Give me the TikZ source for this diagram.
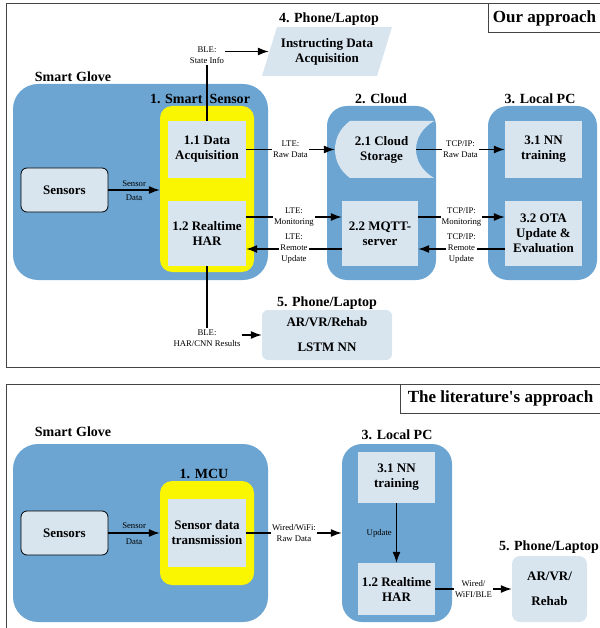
\documentclass[tikz,border=0pt]{standalone}
\usepackage{fontspec}
\setmainfont{Liberation Serif}
\usepackage{tikz}
\usetikzlibrary{positioning, arrows.meta}
\definecolor{gBlue}{HTML}{6CA5D2}
\definecolor{gLight}{HTML}{D8E5EF}
\definecolor{gYellow}{HTML}{FAF500}
\definecolor{gFrame}{HTML}{444444}

\tikzset{
  outerbox/.style={fill=gBlue, rounded corners=20pt},
  chipbox/.style={fill=gYellow, rounded corners=12pt},
  unitbox/.style={fill=gLight, font=\fontsize{13}{15}\selectfont\bfseries, align=center, inner sep=2pt},
  sensorbox/.style={unitbox, draw=black, line width=0.8pt, rounded corners=6pt},
  title/.style={font=\fontsize{14}{16}\selectfont\bfseries},
  heading/.style={draw=gFrame, line width=1pt, fill=white, font=\fontsize{17}{19}\selectfont\bfseries},
  note/.style={font=\fontsize{8.7}{11}\selectfont, align=center, inner sep=1pt},
  lbl/.style={note, fill=white},
  link/.style={line width=1.3pt},
  arr/.style={link, -{Latex[length=11pt, width=8pt]}}
}

\begin{document}
\begin{tikzpicture}[x=1pt, y=-1pt]
  \useasboundingbox (0,0) rectangle (599,628);

  % our approach
  \draw[gFrame, line width=1pt] (6,4) rectangle (601,367);
  \node[heading, minimum width=113pt, minimum height=29pt] (ours) at (544.5,18.5) {Our approach};

  \node[outerbox, rounded corners=25pt, minimum width=255pt, minimum height=196pt] (glove) at (140.5,182) {};
  \node[title] (glovettl) at (73,77) {Smart\hspace{4pt}Glove};
  \node[chipbox, minimum width=94pt, minimum height=166pt] (smart) at (207,189) {};
  \node[title] (smartttl) at (200,99) {1. Smart\hspace{7pt}Sensor};
  \node[unitbox, minimum width=78pt, minimum height=57pt] (acq) at (207,149.5) {1.1 Data\\Acquisition};
  \node[unitbox, minimum width=78pt, minimum height=65pt] (har) at (207,233.5) {1.2 Realtime\\HAR};
  \node[sensorbox, minimum width=87pt, minimum height=44pt] (sensors) at (64.5,190) {Sensors};

  \node[outerbox, minimum width=109pt, minimum height=174pt] (cloud) at (381.5,193) {};
  \node[title] (cloudttl) at (381,99) {2. Cloud};
  \fill[gLight] (434,121) .. controls (410,135) and (410,164) .. (434,178) -- (350,178)
    .. controls (330,164) and (330,135) .. (350,121) -- cycle;
  \node[unitbox, fill=none, minimum width=93pt, minimum height=57pt] (storage) at (381.5,149.5) {2.1 Cloud\\Storage};
  \node[unitbox, minimum width=76pt, minimum height=65pt] (mqtt) at (380,233.5) {2.2 MQTT-\\server};

  \node[outerbox, minimum width=109pt, minimum height=174pt] (pc) at (542.5,193) {};
  \node[title] (pcttl) at (540,99) {3. Local PC};
  \node[unitbox, minimum width=77pt, minimum height=57pt] (nn) at (543.5,149.5) {3.1 NN\\training};
  \node[unitbox, minimum width=77pt, minimum height=65pt] (ota) at (543.5,233.5) {3.2 OTA\\Update \&\\Evaluation};

  \fill[gLight] (277,27) -- (392,27) -- (377,76) -- (262,76) -- cycle;
  \node[unitbox, fill=none, minimum width=130pt, minimum height=49pt] (instr) at (327,51.5) {Instructing Data\\Acquisition};
  \node[title] (instrttl) at (329,19) {4. Phone/Laptop};
  \node[unitbox, rounded corners=6pt, minimum width=130pt, minimum height=50pt] (phone) at (327,335) {AR/VR/Rehab\\[10pt]LSTM NN};
  \node[title] (phonettl) at (327,303) {5. Phone/Laptop};

  \draw[arr] (sensors.east) -- node[note, above=2pt]{Sensor} node[note, below=3pt]{Data} (sensors.east -| smart.west);
  \draw[arr] (acq.east) -- node[lbl]{LTE:\\Raw Data} (storage.west);
  \draw[arr] ([yshift=16.5pt]har.east) -- node[lbl]{LTE:\\Monitoring} ([yshift=16.5pt]mqtt.west);
  \draw[arr] ([yshift=-15.5pt]mqtt.west) -- node[lbl]{LTE:\\Remote\\Update} ([yshift=-15.5pt]har.east);
  \draw[arr] ([xshift=-12pt]storage.east) -- node[lbl]{TCP/IP:\\Raw Data} (nn.west);
  \draw[arr] ([yshift=16.5pt]mqtt.east) -- node[lbl]{TCP/IP:\\Monitoring} ([yshift=16.5pt]ota.west);
  \draw[arr] ([yshift=-15.5pt]ota.west) -- node[lbl]{TCP/IP:\\Remote\\Update} ([yshift=-15.5pt]mqtt.east);

  \node[lbl] (blestate) at (207,55.5) {BLE:\\State Info};
  \draw[link] (acq.north) -- (blestate.south);
  \draw[arr] ([yshift=4pt]blestate.east) -- ([xshift=7pt]instr.west);
  \node[lbl] (bleres) at (207,338) {BLE:\\HAR/CNN Results};
  \draw[link] (har.south) -- (bleres.north);
  \draw[arr] ([yshift=3pt]bleres.east) -- ([yshift=3pt]bleres.east -| phone.west);

  % literature approach
  \draw[gFrame, line width=1pt] (6,631) -- (6,384) -- (601,384);
  \node[heading, minimum width=201pt, minimum height=29pt] (lit) at (500.5,398.5) {The literature\textquotesingle s approach};

  \node[outerbox, rounded corners=25pt, minimum width=255pt, minimum height=178pt] (glove2) at (140.5,533) {};
  \node[title] (glove2ttl) at (73,432) {Smart\hspace{4pt}Glove};
  \node[chipbox, minimum width=94pt, minimum height=104pt] (mcu) at (207,533) {};
  \node[title] (mcuttl) at (204,474) {1. MCU};
  \node[unitbox, minimum width=78pt, minimum height=68pt] (trans) at (207,533) {Sensor data\\transmission};
  \node[sensorbox, minimum width=87pt, minimum height=44pt] (sensors2) at (64.5,533) {Sensors};

  \node[outerbox, minimum width=110pt, minimum height=178pt] (pc2) at (397,533) {};
  \node[title] (pc2ttl) at (397,435) {3. Local PC};
  \node[unitbox, minimum width=77pt, minimum height=51pt] (nn2) at (396.5,477.5) {3.1 NN\\training};
  \node[unitbox, minimum width=77pt, minimum height=52pt] (har2) at (396.5,589) {1.2 Realtime\\HAR};

  \node[unitbox, rounded corners=8pt, minimum width=75pt, minimum height=66pt] (phone2) at (549.5,589) {AR/VR/\\[10pt]Rehab};
  \node[title] (phone2ttl) at (549,547) {5. Phone/Laptop};

  \draw[arr] (sensors2.east) -- node[note, above=3pt]{Sensor} node[note, below=4pt]{Data} (sensors2.east -| mcu.west);
  \draw[arr] (trans.east) -- node[lbl]{Wired/WiFi:\\Raw Data} (pc2.west);
  \draw[arr] (nn2.south) -- node[note, left=3pt]{Update} (har2.north);
  \draw[arr] (har2.east) -- node[lbl]{Wired/\\WiFI/BLE} (phone2.west);
\end{tikzpicture}
\end{document}
